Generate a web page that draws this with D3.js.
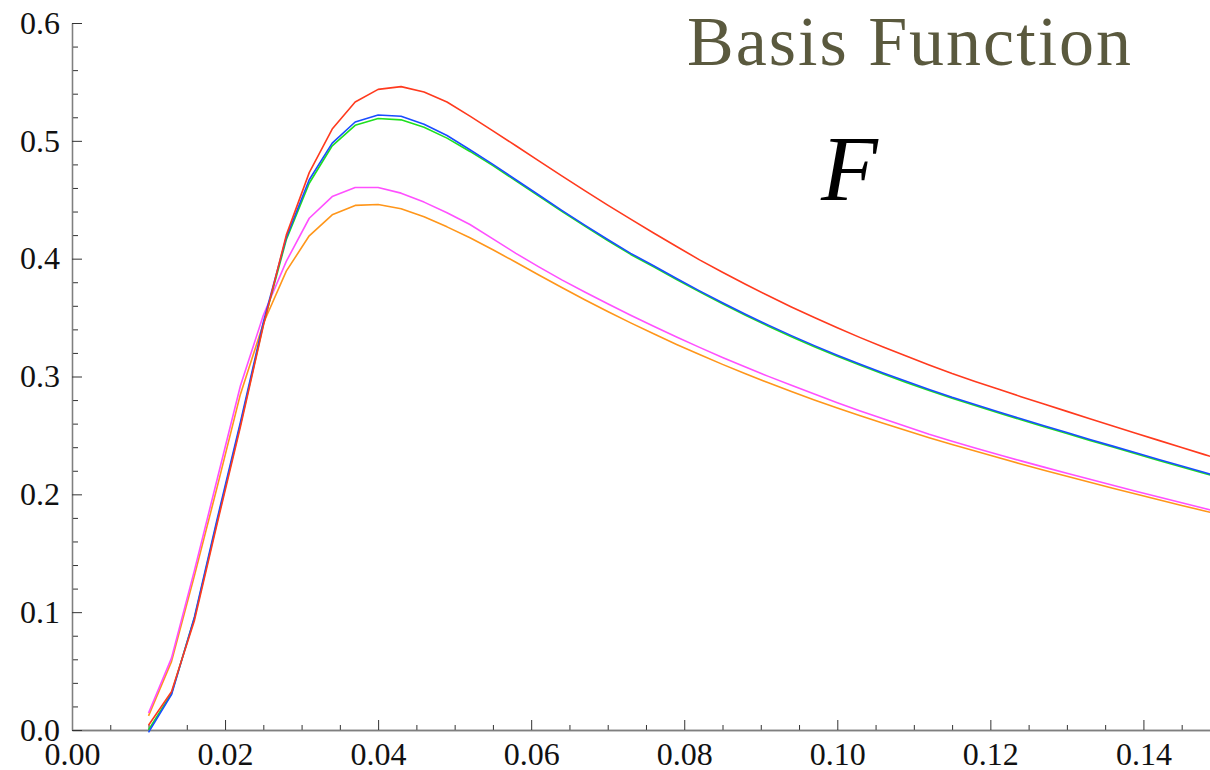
<!DOCTYPE html>
<meta charset="utf-8">
<style>
  body { margin: 0; background: #fff; }
  svg { display: block; }
  text { font-family: "Liberation Serif", "DejaVu Serif", serif; }
</style>
<svg width="1210" height="770"></svg>
<script src="https://d3js.org/d3.v7.min.js"></script>
<script>

// sample points, 0.010 to 0.151 every 0.003
var xs = [0.010, 0.013, 0.016, 0.019, 0.022, 0.025, 0.028, 0.031, 0.034, 0.037,
          0.040, 0.043, 0.046, 0.049, 0.052, 0.055, 0.058, 0.061, 0.064, 0.067,
          0.070, 0.073, 0.076, 0.079, 0.082, 0.085, 0.088, 0.091, 0.094, 0.097,
          0.100, 0.103, 0.106, 0.109, 0.112, 0.115, 0.118, 0.121, 0.124, 0.127,
          0.130, 0.133, 0.136, 0.139, 0.142, 0.145, 0.148, 0.151];

var red = [0.004, 0.0325, 0.093, 0.176, 0.257, 0.343, 0.420, 0.473, 0.510, 0.533,
           0.5437, 0.546, 0.5415, 0.533, 0.521, 0.5085, 0.4958, 0.4830, 0.4703, 0.4578,
           0.4455, 0.4335, 0.4218, 0.4103, 0.3990, 0.3885, 0.3783, 0.3685, 0.3590, 0.3500,
           0.3413, 0.3330, 0.3250, 0.3173, 0.3098, 0.3025, 0.2958, 0.2893, 0.2829, 0.2766,
           0.2704, 0.2642, 0.2580, 0.2519, 0.2458, 0.2397, 0.2337, 0.2277];

var blue = [-0.002, 0.030, 0.096, 0.180, 0.261, 0.346, 0.418, 0.467, 0.498, 0.516,
            0.5219, 0.5208, 0.5141, 0.5045, 0.4924, 0.4800, 0.4670, 0.4540, 0.4410, 0.4285,
            0.4163, 0.4045, 0.3940, 0.3832, 0.3727, 0.3626, 0.3529, 0.3436, 0.3347, 0.3262,
            0.3181, 0.3104, 0.3030, 0.2959, 0.2890, 0.2823, 0.2762, 0.2701, 0.2641, 0.2582,
            0.2524, 0.2466, 0.2409, 0.2352, 0.2296, 0.2240, 0.2185, 0.2130];

var green = [0.000, 0.031, 0.095, 0.178, 0.259, 0.344, 0.416, 0.464, 0.4958, 0.5132,
             0.519, 0.5178, 0.5116, 0.5023, 0.491, 0.4790, 0.4660, 0.4531, 0.4401, 0.4276,
             0.4154, 0.4036, 0.3931, 0.3823, 0.3718, 0.3617, 0.3520, 0.3427, 0.3338, 0.3253,
             0.3172, 0.3095, 0.3021, 0.2950, 0.2881, 0.2815, 0.2754, 0.2693, 0.2633, 0.2574,
             0.2516, 0.2458, 0.2401, 0.2344, 0.2288, 0.2232, 0.2177, 0.2122];

var magenta = [0.0144, 0.061, 0.1355, 0.2137, 0.2919, 0.352, 0.3977, 0.4343, 0.4527, 0.4604,
               0.4604, 0.4556, 0.448, 0.439, 0.429, 0.4168, 0.4045, 0.3930, 0.3820, 0.3717,
               0.3617, 0.3520, 0.3426, 0.3335, 0.3247, 0.3162, 0.3080, 0.3001, 0.2925, 0.2852,
               0.2778, 0.2708, 0.2641, 0.2576, 0.2510, 0.2450, 0.2393, 0.2338, 0.2284, 0.2231,
               0.2179, 0.2128, 0.2077, 0.2027, 0.1977, 0.1928, 0.1879, 0.1830];

var orange = [0.012, 0.058, 0.131, 0.207, 0.2848, 0.345, 0.3894, 0.4194, 0.4372, 0.4452,
              0.446, 0.4423, 0.4355, 0.427, 0.4177, 0.4075, 0.3970, 0.3862, 0.3755, 0.3652,
              0.3552, 0.3455, 0.3362, 0.3272, 0.3186, 0.3103, 0.3023, 0.2946, 0.2872, 0.2801,
              0.2733, 0.2667, 0.2603, 0.2541, 0.2481, 0.2423, 0.2367, 0.2312, 0.2258, 0.2205,
              0.2153, 0.2102, 0.2052, 0.2003, 0.1954, 0.1906, 0.1859, 0.1812];

var xMajor = [0, 0.02, 0.04, 0.06, 0.08, 0.10, 0.12, 0.14];
var yMajor = [0, 0.1, 0.2, 0.3, 0.4, 0.5, 0.6];

var series = [
  {name: "orange", color: "#ff961a", values: orange},
  {name: "magenta", color: "#ff50ff", values: magenta},
  {name: "green", color: "#1ee01e", values: green},
  {name: "blue", color: "#1a4cff", values: blue},
  {name: "red", color: "#ff3a1e", values: red}
];

var svg = d3.select("svg");
var plotLeft = 72, plotRight = 1210, plotTop = 23, plotBottom = 730;

var x = d3.scaleLinear().domain([0, 0.1487]).range([plotLeft, plotRight]);
var y = d3.scaleLinear().domain([0, 0.6]).range([plotBottom, plotTop]);

svg.append("clipPath").attr("id", "clip")
  .append("rect").attr("x", plotLeft).attr("y", 0)
  .attr("width", plotRight - plotLeft).attr("height", plotBottom + 4);

// minor ticks between the labelled ones
var xMinor = d3.range(0, 0.1487, 0.005).filter(function(v) { return Math.abs(v / 0.02 - Math.round(v / 0.02)) > 1e-6; });
var yMinor = d3.range(0, 0.6001, 0.02).filter(function(v) { return Math.abs(v / 0.1 - Math.round(v / 0.1)) > 1e-6; });

function styleAxis(g) {
  g.select(".domain").attr("stroke", "#7f7f7f").attr("stroke-width", 1.3);
  g.selectAll(".tick line").attr("stroke", "#333").attr("stroke-width", 1);
  g.selectAll(".tick text").attr("fill", "#111").style("font-size", "32px")
    .style("font-family", "'Liberation Serif', serif");
}

svg.append("g").attr("transform", "translate(0," + plotBottom + ")")
  .call(d3.axisBottom(x).tickValues(xMinor).tickSize(-5).tickSizeOuter(0).tickFormat(""))
  .call(styleAxis);
svg.append("g").attr("transform", "translate(" + plotLeft + ",0)")
  .call(d3.axisLeft(y).tickValues(yMinor).tickSize(-6).tickSizeOuter(0).tickFormat(""))
  .call(styleAxis);

svg.append("g").attr("transform", "translate(0," + plotBottom + ")")
  .call(d3.axisBottom(x).tickValues(xMajor).tickSize(-10).tickSizeOuter(0).tickPadding(12).tickFormat(d3.format(".2f")))
  .call(styleAxis);
svg.append("g").attr("transform", "translate(" + plotLeft + ",0)")
  .call(d3.axisLeft(y).tickValues(yMajor).tickSize(-10).tickSizeOuter(0).tickPadding(12).tickFormat(d3.format(".1f")))
  .call(styleAxis);

var line = d3.line()
  .x(function(d, i) { return x(xs[i]); })
  .y(function(d) { return y(d); });

svg.append("g").attr("clip-path", "url(#clip)")
  .selectAll("path")
  .data(series)
  .enter().append("path")
    .attr("fill", "none")
    .attr("stroke", function(d) { return d.color; })
    .attr("stroke-width", 1.6)
    .attr("stroke-linejoin", "round")
    .attr("d", function(d) { return line(d.values); });

svg.append("text")
  .attr("x", 687).attr("y", 65)
  .attr("fill", "#5a593e")
  .style("font-size", "70px")
  .style("letter-spacing", "2px")
  .text("Basis Function");

svg.append("text")
  .attr("x", 821).attr("y", 200)
  .attr("fill", "#000")
  .style("font-size", "93px")
  .style("font-style", "italic")
  .text("F");

</script>
